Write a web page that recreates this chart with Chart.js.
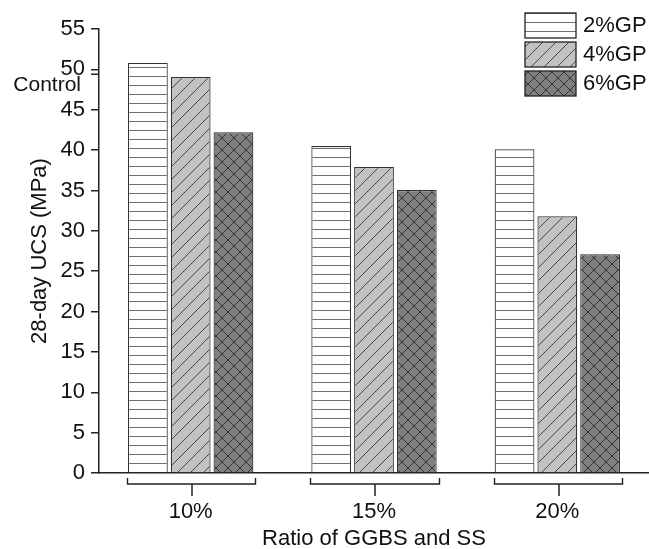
<!DOCTYPE html>
<html>
<head>
<meta charset="utf-8">
<script src="https://cdn.jsdelivr.net/npm/chart.js@4/dist/chart.umd.min.js"></script>
<style>
  html, body { margin: 0; padding: 0; background: #fff; }
  #wrap { width: 649px; height: 549px; }
</style>
</head>
<body>
<div id="wrap"><canvas id="ucs-chart" width="649" height="549"></canvas></div>
<script>
/* 28-day UCS bar chart: groups = GGBS/SS ratio, bars = GP dosage */

const categories = ["10%", "15%", "20%"];
const seriesNames = ["2%GP", "4%GP", "6%GP"];
const gp2 = [50.8, 40.5, 40.1];
const gp4 = [49.05, 37.9, 31.8];
const gp6 = [42.2, 35.05, 27.1];
const yMin = 0, yMax = 55, yStep = 5;
const controlValue = 49.4;
const controlLabel = "Control";
const xTitle = "Ratio of GGBS and SS";
const yTitle = "28-day UCS (MPa)";

const FONT = "'Liberation Sans', Arial, sans-serif";
const INK = "#222";

// small tiles for hatch fills
function makePattern(bg, size, drawFn) {
  const c = document.createElement("canvas");
  c.width = size; c.height = size;
  const g = c.getContext("2d");
  g.fillStyle = bg;
  g.fillRect(0, 0, size, size);
  drawFn(g, size);
  return document.getElementById("ucs-chart").getContext("2d").createPattern(c, "repeat");
}

function slash(g, s) {
  g.beginPath();
  g.moveTo(0, s); g.lineTo(s, 0);
  g.moveTo(-2, 2); g.lineTo(2, -2);
  g.moveTo(s - 2, s + 2); g.lineTo(s + 2, s - 2);
  g.stroke();
}
function backslash(g, s) {
  g.beginPath();
  g.moveTo(0, 0); g.lineTo(s, s);
  g.moveTo(-2, s - 2); g.lineTo(2, s + 2);
  g.moveTo(s - 2, -2); g.lineTo(s + 2, 2);
  g.stroke();
}

const fillHoriz = makePattern("#ffffff", 9, (g, s) => {
  g.strokeStyle = "#6e6e6e"; g.lineWidth = 1;
  g.beginPath(); g.moveTo(0, 4.5); g.lineTo(s, 4.5); g.stroke();
});
const fillSlash = makePattern("#c2c2c2", 13, (g, s) => {
  g.strokeStyle = "#4a4a4a"; g.lineWidth = 1;
  slash(g, s);
});
const fillCross = makePattern("#808080", 12, (g, s) => {
  g.strokeStyle = "#333"; g.lineWidth = 1;
  slash(g, s); backslash(g, s);
});

const fills = [fillHoriz, fillSlash, fillCross];
const values = [gp2, gp4, gp6];

// brackets under each group + control mark + legend box
const extrasPlugin = {
  id: "extras",
  afterDraw(chart) {
    const ctx = chart.ctx;
    const ys = chart.scales.y;
    const first = chart.getDatasetMeta(0);
    const last = chart.getDatasetMeta(chart.data.datasets.length - 1);

    ctx.save();
    ctx.strokeStyle = INK;
    ctx.lineWidth = 1.4;
    const base = chart.chartArea.bottom;
    categories.forEach((c, i) => {
      const b0 = first.data[i], b2 = last.data[i];
      const l = Math.round(b0.x - b0.width / 2 - 1) + 0.5;
      const r = Math.round(b2.x + b2.width / 2 + 2) + 0.5;
      const cx = Math.round((l + r) / 2);
      const top = base + 5, mid = base + 11, end = base + 23;
      ctx.beginPath();
      ctx.moveTo(l, top); ctx.lineTo(l, mid); ctx.lineTo(r, mid); ctx.lineTo(r, top);
      ctx.stroke();
      // centre stem of the bracket
      ctx.fillStyle = INK;
      ctx.fillRect(cx - 0.75, mid, 1.5, end - mid);
    });

    // control tick on y axis
    const cy = ys.getPixelForValue(controlValue);
    ctx.lineWidth = 1.5;
    ctx.beginPath();
    ctx.moveTo(ys.right - 8, cy); ctx.lineTo(ys.right, cy);
    ctx.stroke();
    ctx.fillStyle = "#111";
    ctx.font = "21px " + FONT;
    ctx.textAlign = "right";
    ctx.textBaseline = "middle";
    ctx.fillText(controlLabel, ys.right - 18, cy + 11);

    // legend (top right)
    const bx = chart.chartArea.right - 124;
    chart.data.datasets.forEach((ds, i) => {
      const by = 13 + i * 29;
      ctx.fillStyle = ds.backgroundColor;
      ctx.fillRect(bx, by, 51, 25);
      ctx.strokeStyle = INK;
      ctx.lineWidth = 1.3;
      ctx.strokeRect(bx, by, 51, 25);
      ctx.fillStyle = "#111";
      ctx.font = "22px " + FONT;
      ctx.textAlign = "left";
      ctx.fillText(ds.label, bx + 58, by + 13);
    });
    ctx.restore();
  }
};

new Chart(document.getElementById("ucs-chart"), {
  type: "bar",
  data: {
    labels: categories,
    datasets: seriesNames.map((name, i) => ({
      label: name,
      data: values[i],
      backgroundColor: fills[i],
      borderColor: "#333",
      borderWidth: 1.2,
      categoryPercentage: 0.70,
      barPercentage: 0.93
    }))
  },
  options: {
    responsive: false,
    animation: false,
    layout: { padding: { top: 29, right: 0, bottom: 0, left: 0 } },
    plugins: {
      legend: { display: false },
      tooltip: { enabled: false }
    },
    scales: {
      x: {
        offset: true,
        grid: { display: false },
        border: { display: true, color: INK, width: 1.5 },
        ticks: { color: "#111", font: { family: FONT, size: 22 }, padding: 18 },
        title: {
          display: true, text: xTitle, color: "#111",
          font: { family: FONT, size: 22 }, padding: { top: 0, bottom: -3 }
        },
        afterFit(scale) { scale.height = 76; }
      },
      y: {
        min: yMin, max: yMax,
        grid: { drawOnChartArea: false, drawTicks: true, tickLength: 8, color: INK, lineWidth: 1.5 },
        border: { display: true, color: INK, width: 1.5 },
        ticks: { stepSize: yStep, color: "#111", font: { family: FONT, size: 22 }, padding: 6 },
        title: {
          display: true, text: yTitle, color: "#111",
          font: { family: FONT, size: 22 }, padding: { top: 27, bottom: 0 }
        },
        afterFit(scale) { scale.width = 99; }
      }
    }
  },
  plugins: [extrasPlugin]
});
</script>
</body>
</html>
